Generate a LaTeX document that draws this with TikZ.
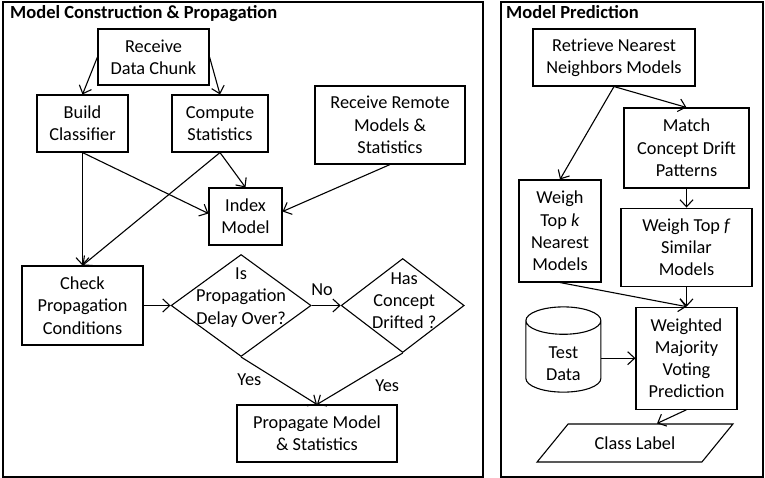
\documentclass[tikz,border=0pt]{standalone}
\usepackage{fontspec}
\setmainfont{Carlito}
\usetikzlibrary{shapes.geometric,arrows.meta,positioning}

\begin{document}
\begin{tikzpicture}[x=1pt,y=-1pt,font=\fontsize{18.3}{22.3}\selectfont]
\tikzset{box/.style={draw,line width=1.1pt,align=center,inner sep=2pt},
dec/.style={diamond,draw,line width=1.1pt,inner sep=0pt},
panel/.style={draw,line width=1.3pt,inner sep=0pt},
heading/.style={font=\fontsize{18.5}{21}\selectfont\bfseries,anchor=base west,inner sep=0pt},
flow/.style={-{Straight Barb[length=7pt,width=13pt]},line width=1.1pt},
tag/.style={inner sep=2pt}}
\useasboundingbox (0,0) rectangle (765,478);

\node[panel,minimum width=480pt,minimum height=475pt] (panel1) at (243,239.5) {};
\node[panel,minimum width=262pt,minimum height=475pt] (panel2) at (632,239.5) {};
\node[heading] (title1) at (10,18.5) {Model Construction \& Propagation};
\node[heading] (title2) at (506,18.5) {Model Prediction};

\node[box,minimum width=111pt,minimum height=56pt] (chunk) at (153.5,57) {Receive\\Data Chunk};
\node[box,minimum width=91pt,minimum height=57pt] (classifier) at (82.5,123.5) {Build\\Classifier};
\node[box,minimum width=96pt,minimum height=57pt] (stats) at (220,123.5) {Compute\\Statistics};
\node[box,minimum width=150pt,minimum height=78pt] (remote) at (390,125) {Receive Remote\\Models \&\\Statistics};
\node[box,minimum width=73pt,minimum height=57pt] (index) at (245.5,216.5) {Index\\Model};
\node[box,minimum width=121pt,minimum height=79pt] (check) at (82.5,305.5) {Check\\Propagation\\Conditions};
\node[dec,minimum width=140pt,minimum height=102pt,right=27pt of check] (delay) {};
\node[align=center,inner sep=0pt] (delaytxt) at ([yshift=8pt]delay.center) {Is\\Propagation\\Delay Over?};
\node[dec,minimum width=123pt,minimum height=94pt,right=29pt of delay] (drift) {};
\node[align=center,inner sep=0pt] (drifttxt) at ([xshift=1.5pt,yshift=5pt]drift.center) {Has\\Concept\\Drifted ?};
\node[box,minimum width=160pt,minimum height=57pt] (propagate) at (317,433.5) {Propagate Model\\\& Statistics};

\draw[flow] (chunk.west) -- (classifier.north);
\draw[flow] (chunk.east) -- (stats.north);
\draw[flow] (classifier.south) -- (check.north);
\draw[flow] (classifier.south) -- ([yshift=3pt]index.west);
\draw[flow] (stats.south) -- (index.north);
\draw[flow] (stats.south) -- (check.north);
\draw[flow] (remote.south) -- ([yshift=5pt]index.east);
\draw[flow] (check.east) -- (delay.west);
\draw[flow] (delay.east) -- node[above=7pt,tag,xshift=-4pt] (no) {No} (drift.west);
\draw[flow] (delay.south) -- node[pos=0.3,below left,tag] (yes1) {Yes} (propagate.north);
\draw[flow] (drift.south) -- node[pos=0.35,below right,tag,yshift=-6pt] (yes2) {Yes} (propagate.north);

\node[box,minimum width=162pt,minimum height=57pt] (retrieve) at (614,57.5) {Retrieve Nearest\\Neighbors Models};
\node[box,minimum width=125pt,minimum height=80pt] (match) at (686.5,148) {Match\\Concept Drift\\Patterns};
\node[box,minimum width=82pt,minimum height=102pt] (topk) at (560,231) {Weigh\\Top \textit{k}\\Nearest\\Models};
\node[box,minimum width=131pt,minimum height=78pt,below=19pt of match] (topf) {Weigh Top \textit{f}\\Similar\\Models};
\node[box,minimum width=101pt,minimum height=102pt,below=20pt of topf] (voting) {Weighted\\Majority\\Voting\\Prediction};
\node[draw,cylinder,shape border rotate=90,aspect=0.75,line width=1.1pt,align=center,inner sep=1pt,minimum width=75pt,minimum height=76pt,left=34pt of voting] (test) {\\Test\\Data};
\node[draw,trapezium,trapezium left angle=44,trapezium right angle=136,trapezium stretches=true,line width=1.1pt,minimum width=196pt,minimum height=38pt] (classlabel) at (635,443) {Class Label};

\draw[flow] (retrieve.south) -- (match.north);
\draw[flow] (retrieve.south) -- (topk.north);
\draw[flow] (match.south) -- (topf.north);
\draw[flow] (topk.south) -- (voting.north);
\draw[flow] (topf.south) -- (voting.north);
\draw[flow] (test.east) -- (voting.west);
\draw[flow] (voting.south) -- ([xshift=22pt]classlabel.north);
\end{tikzpicture}
\end{document}
